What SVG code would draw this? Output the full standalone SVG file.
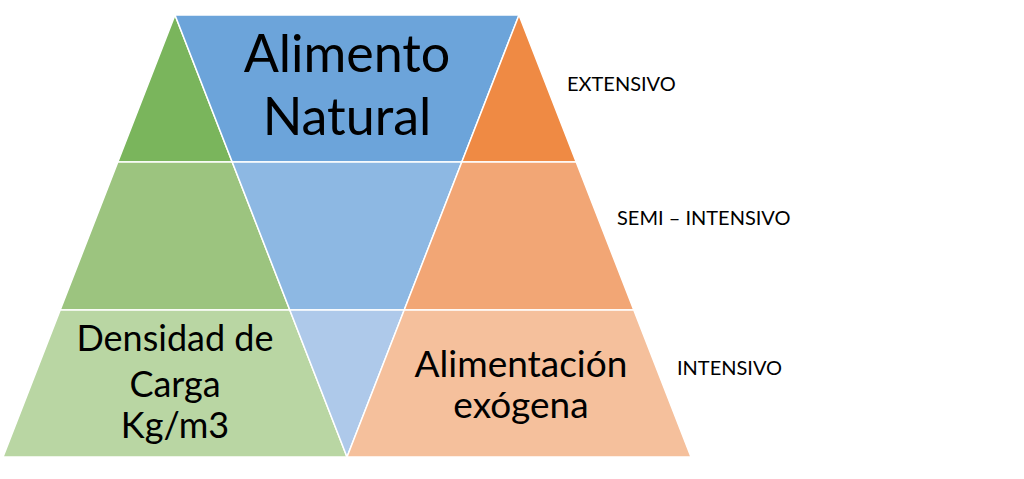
<svg xmlns="http://www.w3.org/2000/svg" width="1024" height="479" viewBox="0 0 1024 479">
<style>
.seg{stroke:#ffffff;stroke-width:1.5;stroke-linejoin:miter}
.t{font-family:Lato,"Liberation Sans",sans-serif;fill:#000000;text-anchor:middle}
.s{font-family:Lato,"Liberation Sans",sans-serif;fill:#000000;font-size:20px}
</style>
<rect width="1024" height="479" fill="#ffffff"/>
<g id="green">
<polygon class="seg" fill="#7AB55C" points="175,15 117.8,162 232.2,162"/>
<polygon class="seg" fill="#9CC47F" points="117.8,162 232.2,162 289.8,310 60.2,310"/>
<polygon class="seg" fill="#B9D6A3" points="60.2,310 289.8,310 347,457 3,457"/>
</g>
<g id="blue">
<polygon class="seg" fill="#6CA4DA" points="175,15 519,15 461.8,162 232.2,162"/>
<polygon class="seg" fill="#8DB8E3" points="232.2,162 461.8,162 404.2,310 289.8,310"/>
<polygon class="seg" fill="#AEC9EA" points="289.8,310 404.2,310 347,457"/>
</g>
<g id="orange">
<polygon class="seg" fill="#EF8A44" points="519,15 576.2,162 461.8,162"/>
<polygon class="seg" fill="#F2A675" points="461.8,162 576.2,162 633.8,310 404.2,310"/>
<polygon class="seg" fill="#F5C09C" points="404.2,310 633.8,310 691,457 347,457"/>
</g>
<g id="label-alimento-natural">
<text class="t" font-size="52" x="347" y="72">Alimento</text>
<text class="t" font-size="52" x="347" y="135">Natural</text>
</g>
<g id="label-densidad">
<text class="t" font-size="36" x="175" y="351">Densidad de</text>
<text class="t" font-size="36" x="175" y="397">Carga</text>
<text class="t" font-size="36" x="175" y="438">Kg/m3</text>
</g>
<g id="label-alimentacion">
<text class="t" font-size="37" x="521" y="377">Alimentación</text>
<text class="t" font-size="37" x="521" y="418">exógena</text>
</g>
<g id="side-labels">
<text class="s" x="567" y="91">EXTENSIVO</text>
<text class="s" x="617" y="225">SEMI – INTENSIVO</text>
<text class="s" x="677" y="375">INTENSIVO</text>
</g>
<g id="connectors"/>
</svg>
